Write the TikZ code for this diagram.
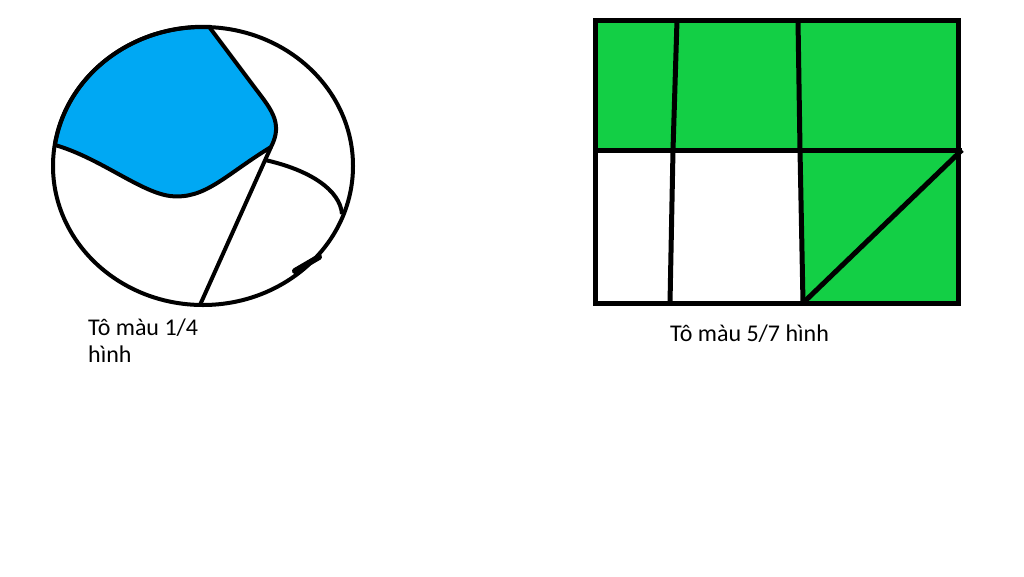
\documentclass[tikz,border=0pt]{standalone}
\usepackage{fontspec}
\setmainfont{Carlito}
\definecolor{paintblue}{RGB}{0,168,243}
\definecolor{paintgreen}{RGB}{19,207,69}
\begin{document}
\begin{tikzpicture}[x=1pt, y=-1pt,
    edge/.style={line width=4pt, line join=round},
    box/.style={line width=5pt},
    caption/.style={inner sep=0pt, align=left, font=\fontsize{24}{27}\selectfont}]
    \useasboundingbox (0,0) rectangle (1024,576);
    % circle cut into pieces
    \filldraw[paintblue, draw=black, edge] (210,28) -- (252,84) .. controls (270,108) and (284,122) .. (271,147)
        .. controls (225,175) and (205,200) .. (170,196) .. controls (140,192) and (100,158) .. (55,145)
        arc[start angle=188.6, end angle=272.7, x radius=150, y radius=139] -- cycle;
    \draw[edge] (203,166) ellipse[x radius=150, y radius=139];
    \draw[edge] (271,147) -- (200,305);
    \draw[edge] (265,160) .. controls (310,170) and (340,190) .. (342,214);
    \draw[line width=6pt, line cap=round] (295,271) -- (319,257);
    \node[caption, anchor=base west] (circletext) at (88,362) {Tô màu 1/4\\hình};
    % rectangle in seven parts
    \fill[paintgreen] (595,20) rectangle (958,150);
    \fill[paintgreen] (800,150) -- (958,150) -- (958,303) -- (803,303) -- cycle;
    \draw[box] (595,20) rectangle (958,303);
    \draw[box] (595,150) -- (962,150);
    \draw[box] (677,20) -- (673,150) -- (670,303);
    \draw[box] (798,20) -- (800,150) -- (803,303);
    \draw[box] (803,303) -- (962,150);
    \node[caption, anchor=base west] (recttext) at (670,341) {Tô màu 5/7 hình};
\end{tikzpicture}
\end{document}
